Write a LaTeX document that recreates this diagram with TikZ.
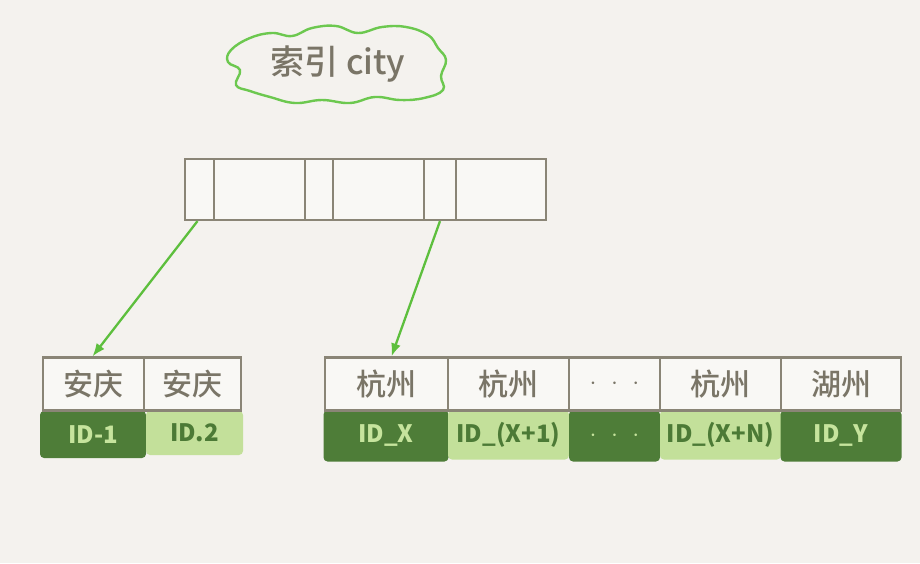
\documentclass[tikz,border=0pt]{standalone}
\usepackage{fontspec}
\setmainfont{Noto Sans CJK SC}
\newfontfamily\medfont{Noto Sans CJK SC Medium}
\usetikzlibrary{arrows.meta}
\definecolor{paper}{HTML}{F4F2EE}
\definecolor{frame}{HTML}{8A8576}
\definecolor{ink}{HTML}{7A7567}
\definecolor{cellbg}{HTML}{F9F8F5}
\definecolor{link}{HTML}{5DBF3D}
\definecolor{cloudline}{HTML}{6CC84F}
\definecolor{darkid}{HTML}{4E7D38}
\definecolor{lightid}{HTML}{C3E09A}
\definecolor{darktext}{HTML}{C6E49D}
\definecolor{lighttext}{HTML}{4C7A36}
\newcommand{\gapdots}{$\cdot\hspace{9pt}\cdot\hspace{9pt}\cdot$}
\tikzset{
  cell/.style={draw=frame, line width=2.2pt, fill=cellbg, inner sep=0pt,
    minimum height=#1, text=ink, font=\medfont\fontsize{30}{30}\selectfont},
  topcell/.style={cell=61pt},
  keycell/.style={cell=53pt},
  idfont/.style={font=\bfseries\fontsize{24}{24}\selectfont},
  iddark/.style={fill=darkid, rounded corners=4pt, inner sep=0pt,
    text=darktext, idfont},
  idlight/.style={fill=lightid, rounded corners=4pt, inner sep=0pt,
    text=lighttext, idfont},
  pointer/.style={draw=link, line width=2.3pt, -{Latex[length=13pt,width=10pt]}},
}
\begin{document}
\begin{tikzpicture}[x=1pt,y=-1pt]
\fill[paper] (0,0) rectangle (920,563);
\useasboundingbox (0,0) rectangle (920,563);

% cloud label of the index
\draw[cloudline, line width=2.4pt]
  plot[smooth cycle, tension=0.7] coordinates {
    (231,50) (250,38) (272,33) (292,36) (312,28) (336,26) (358,33)
    (382,27) (406,27) (428,35) (438,48) (446,60) (441,76) (443,90)
    (424,98) (400,100) (375,97) (350,103) (322,100) (295,103)
    (270,97) (250,91) (236,85) (240,70) (228,62)};
\node[text=ink, font=\medfont\fontsize{34}{34}\selectfont] (title) at (338,64) {索引 city};

% upper index page
\node[topcell, minimum width=29pt] (c1) at (199.5,189.5) {};
\node[topcell, minimum width=91pt] (c2) at (259.5,189.5) {};
\node[topcell, minimum width=28pt] (c3) at (319,189.5) {};
\node[topcell, minimum width=91pt] (c4) at (378.5,189.5) {};
\node[topcell, minimum width=32pt] (c5) at (440,189.5) {};
\node[topcell, minimum width=90pt] (c6) at (501,189.5) {};

% left leaf page
\node[iddark, minimum width=106pt, minimum height=47pt] (a1id) at (93,434.5) {ID-1};
\node[idlight, minimum width=97pt, minimum height=44pt] (a2id) at (194.5,433) {ID.2};
\node[keycell, minimum width=101pt] (a1) at (93.5,384) {安庆};
\node[keycell, minimum width=97pt] (a2) at (192.5,384) {安庆};

% right leaf page
\node[iddark, minimum width=125pt, minimum height=51pt] (h1id) at (386,436) {ID\_X};
\node[idlight, minimum width=121pt, minimum height=49pt] (h2id) at (508.5,435) {ID\_(X+1)};
\node[iddark, minimum width=91pt, minimum height=51pt] (h3id) at (614.5,436) {\gapdots};
\node[idlight, minimum width=121pt, minimum height=49pt] (h4id) at (720.5,435) {ID\_(X+N)};
\node[iddark, minimum width=121pt, minimum height=51pt] (h5id) at (841,436) {ID\_Y};
\node[keycell, minimum width=123pt] (h1) at (386.5,384) {杭州};
\node[keycell, minimum width=121pt] (h2) at (508.5,384) {杭州};
\node[keycell, minimum width=91pt] (h3) at (614.5,384) {\gapdots};
\node[keycell, minimum width=121pt] (h4) at (720.5,384) {杭州};
\node[keycell, minimum width=120pt] (h5) at (841,384) {湖州};

% pointers from the index page down to the leaves
\draw[pointer] ([xshift=-2pt]c1.south) -- ([xshift=-1pt]a1.north);
\draw[pointer] (c5.south) -- ([xshift=5pt]h1.north);
\end{tikzpicture}
\end{document}
